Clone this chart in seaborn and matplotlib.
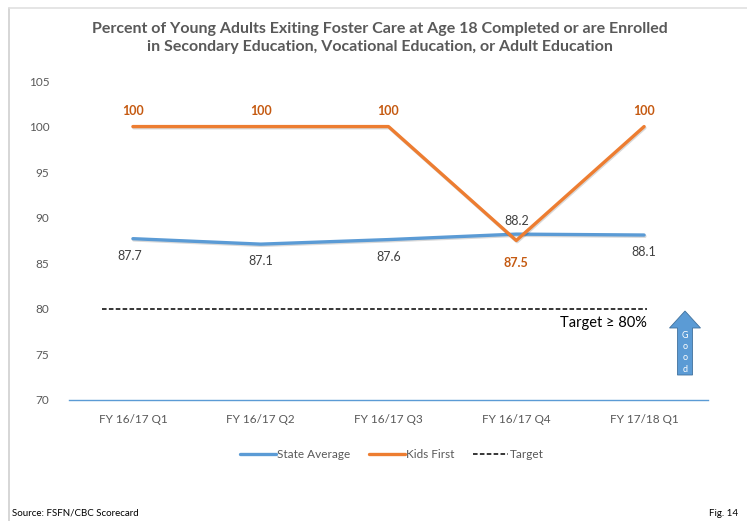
import matplotlib
matplotlib.use("Agg")
import matplotlib.pyplot as plt
import matplotlib.patheffects as pe
from matplotlib.patches import FancyArrow
from matplotlib.lines import Line2D
import seaborn as sns
import pandas as pd

categories = ["FY 16/17 Q1", "FY 16/17 Q2", "FY 16/17 Q3", "FY 16/17 Q4", "FY 17/18 Q1"]
state_avg = [87.7, 87.1, 87.6, 88.2, 88.1]
kids_first = [100, 100, 100, 87.5, 100]
target = 80
y_ticks = [70, 75, 80, 85, 90, 95, 100, 105]

sns.set_style("white")
plt.rcParams["font.family"] = ["Lato", "DejaVu Sans"]

BLUE = "#5B9BD5"
ORANGE = "#ED7D31"
ORANGE_TXT = "#C55A11"
GRAY = "#595959"

df = pd.DataFrame({
    "x": list(range(len(categories))) * 2,
    "value": state_avg + kids_first,
    "series": ["State Average"] * len(categories) + ["Kids First"] * len(categories),
})

fig = plt.figure(figsize=(7.47, 5.21), dpi=100)
W, H = 747, 521
ax = fig.add_axes([69 / W, 1 - 400 / H, (708 - 69) / W, (400 - 81) / H])

shadow = [pe.SimpleLineShadow(offset=(0.6, -0.9), alpha=0.15, shadow_color="black"), pe.Normal()]
sns.lineplot(data=df, x="x", y="value", hue="series",
             palette={"State Average": BLUE, "Kids First": ORANGE},
             linewidth=2.4, ax=ax, legend=False, path_effects=shadow)

ax.hlines(target, -0.24, 4.02, colors="black", linestyles=(0, (3, 1.5)), linewidth=1.1)

ax.set_xlim(-0.5, len(categories) - 0.5)
ax.set_ylim(70, 105)
ax.set_yticks(y_ticks)
ax.set_xticks(range(len(categories)))
ax.set_xticklabels(categories)
ax.tick_params(axis="both", length=0, labelsize=8.5, colors=GRAY, pad=10)
ax.tick_params(axis="y", pad=14)
ax.set_xlabel("")
ax.set_ylabel("")
for s in ["top", "right", "left"]:
    ax.spines[s].set_visible(False)
ax.spines["bottom"].set_color(BLUE)
ax.spines["bottom"].set_linewidth(1.0)

# data labels
for i, v in enumerate(kids_first):
    if i == 3:
        ax.annotate(f"{v:g}", (i, v), xytext=(0, -12), textcoords="offset points",
                    ha="center", va="top", color=ORANGE_TXT, fontsize=9, fontweight="bold")
    else:
        ax.annotate(f"{v:g}", (i, v), xytext=(0, 7), textcoords="offset points",
                    ha="center", va="bottom", color=ORANGE_TXT, fontsize=9, fontweight="bold")
for i, v in enumerate(state_avg):
    if i == 3:
        ax.annotate(f"{v:g}", (i, v), xytext=(0, 5), textcoords="offset points",
                    ha="center", va="bottom", color="#404040", fontsize=9)
    else:
        ax.annotate(f"{v:g}", (i, v), xytext=(-2 if i == 0 else 0, -8), textcoords="offset points",
                    ha="center", va="top", color="#404040", fontsize=9)

ax.text(4.02, target - 0.8, "Target \u2265 80%", ha="right", va="top", fontsize=10.5, color="black")

# Good arrow
arr = FancyArrow(685 / W, 1 - 375 / H, 0, (375 - 311) / H, width=15 / W,
                 head_width=31 / W, head_length=17 / H, length_includes_head=True,
                 transform=fig.transFigure, facecolor=BLUE, edgecolor="#41719C", linewidth=0.6)
fig.patches.append(arr)
for k, ch in enumerate("Good"):
    fig.text(685 / W, 1 - (335 + k * 11.5) / H, ch, ha="center", va="center",
             color="white", fontsize=6.5)

# title
fig.text(0.5 + 6 / W, 1 - 38 / H,
         "Percent of Young Adults Exiting Foster Care at Age 18 Completed or are Enrolled\n"
         "in Secondary Education, Vocational Education, or Adult Education",
         ha="center", va="center", fontsize=11.5, fontweight="bold", color=GRAY, linespacing=1.4)

# legend
handles = [Line2D([], [], color=BLUE, lw=2.4),
           Line2D([], [], color=ORANGE, lw=2.4),
           Line2D([], [], color="black", lw=1.1, ls=(0, (3, 1.5)))]
fig.legend(handles, ["State Average", "Kids First", "Target"], loc="center",
           bbox_to_anchor=(392 / W, 1 - 455 / H), ncol=3, frameon=False,
           fontsize=8.5, handlelength=3.0, handletextpad=0.1, columnspacing=1.6,
           labelcolor=GRAY)

fig.text(12 / W, 1 - 513 / H, "Source: FSFN/CBC Scorecard", fontsize=7, color="black", va="center")
fig.text(738 / W, 1 - 513 / H, "Fig. 14", fontsize=7, color="black", va="center", ha="right")

# frame
fig.add_artist(Line2D([9 / W, 9 / W], [0, 1 - 8 / H], transform=fig.transFigure, color="#D0D0D0", lw=1.2))
fig.add_artist(Line2D([9 / W, 1], [1 - 8 / H, 1 - 8 / H], transform=fig.transFigure, color="#E0E0E0", lw=1.2))

fig.savefig("out.png", dpi=100)
